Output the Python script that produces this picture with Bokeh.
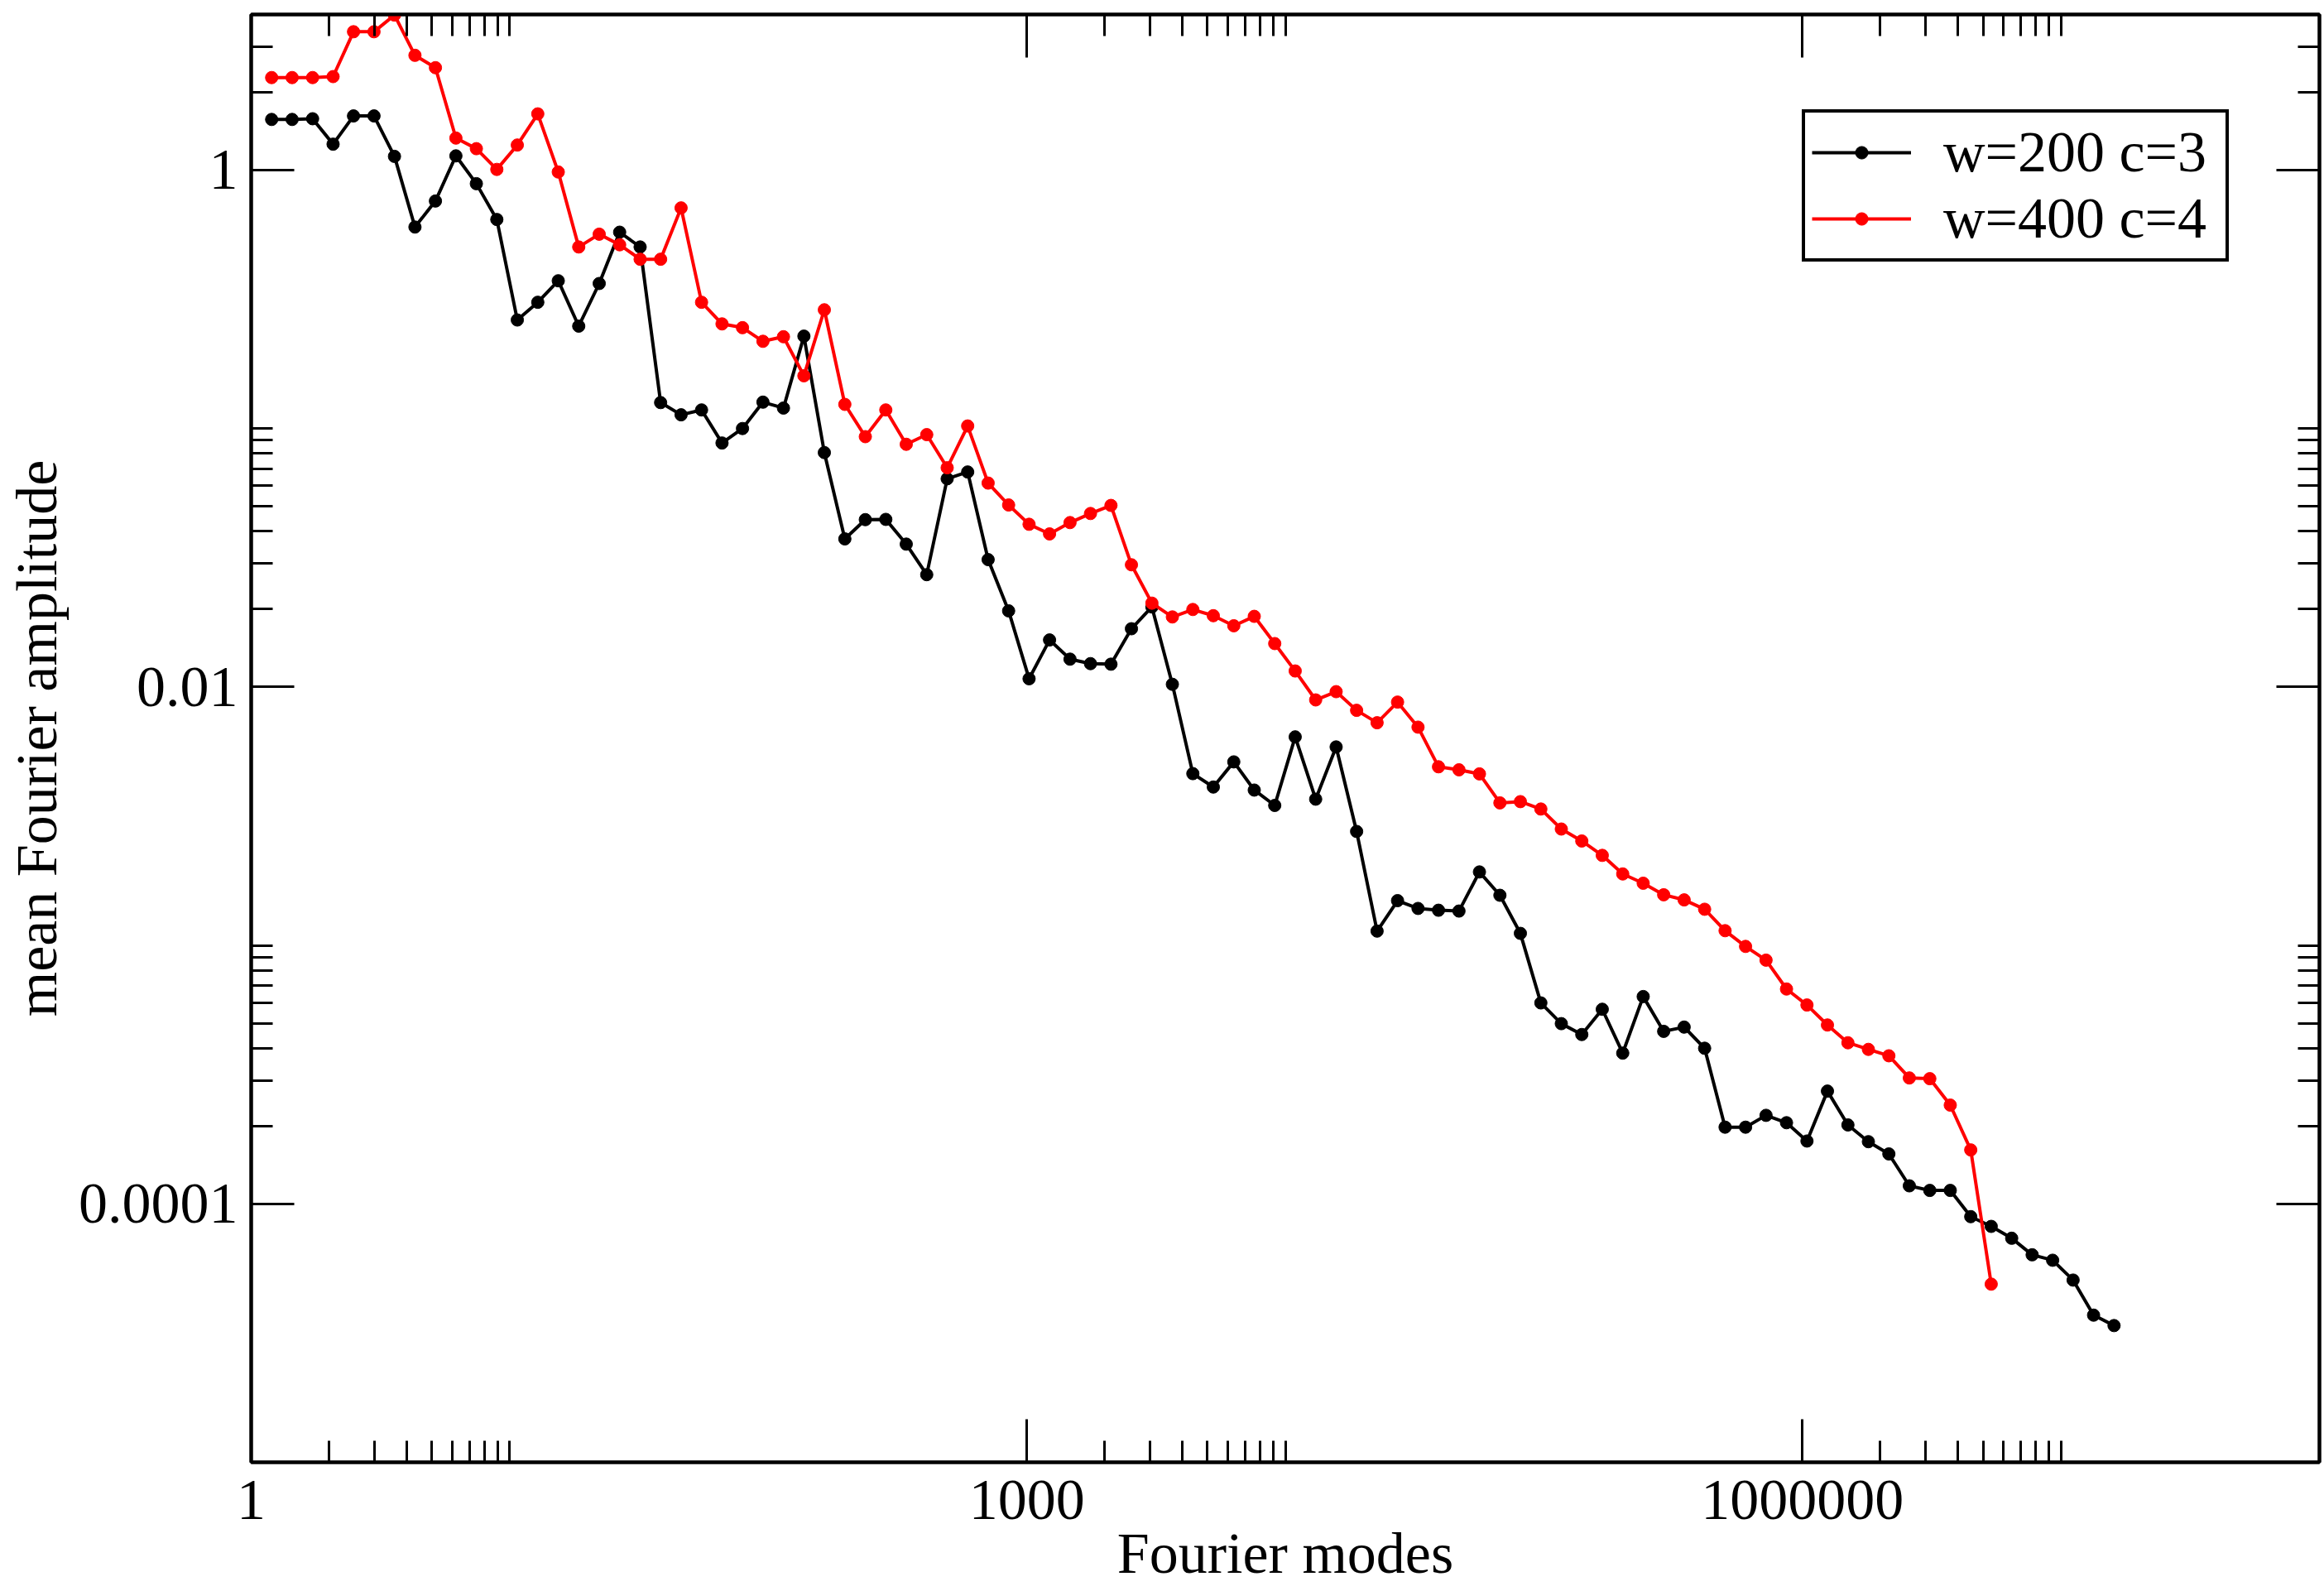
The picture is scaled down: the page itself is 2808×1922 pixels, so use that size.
import math
from bokeh.plotting import figure
from bokeh.models import (LogAxis, FixedTicker, CustomJSTickFormatter,
                          Legend, LegendItem, Range1d, ColumnDataSource)
from bokeh.embed import file_html
from bokeh.resources import INLINE

# ---------------- data ----------------
modes = [1.2, 1.44, 1.728, 2.074, 2.488, 2.986, 3.583, 4.300, 5.160, 6.192,
         7.430, 8.916, 10.70, 12.84, 15.41, 18.49, 22.19, 26.62, 31.95, 38.34,
         46.01, 55.21, 66.25, 79.50, 95.40, 114.5, 137.4, 164.8, 197.8, 237.4,
         284.9, 341.8, 410.2, 492.2, 590.7, 708.8, 850.6, 1020.7, 1224.8, 1469.8,
         1763.7, 2116.5, 2539.8, 3047.7, 3657.3, 4388.7, 5266.5, 6319.8, 7583.7, 9100.4,
         10920, 13105, 15725, 18871, 22645, 27174, 32608, 39130, 46956, 56347,
         67617, 81140, 97368, 116842, 140211, 168253, 201903, 242284, 290741, 348889,
         418667, 502400, 602880, 723456, 868147, 1041777, 1250132, 1500159, 1800190, 2160228,
         2592274, 3110729, 3732875, 4479450, 5375340, 6450408, 7740489, 9288587, 11146305,
         13375566, 16050679]

amp_w200_c3 = [1.57, 1.57, 1.58, 1.26, 1.62, 1.62, 1.13, 0.602, 0.759, 1.135,
               0.886, 0.644, 0.263, 0.308, 0.373, 0.249, 0.364, 0.575, 0.504, 0.126,
               0.113, 0.118, 0.0879, 0.100, 0.1265, 0.120, 0.2277, 0.0807, 0.0374, 0.0444,
               0.0445, 0.0357, 0.0272, 0.0639, 0.0679, 0.0311, 0.0197, 0.01076, 0.0152, 0.01281,
               0.01231, 0.01225, 0.0168, 0.0204, 0.01024, 0.00462, 0.0041, 0.00513, 0.00399, 0.00348,
               0.00641, 0.00368, 0.00586, 0.00276, 0.001136, 0.00149, 0.00139, 0.001368, 0.001358, 0.001924,
               0.001563, 0.001113, 0.000599, 0.000498, 0.000452, 0.000566, 0.000383, 0.000634, 0.000465, 0.000483,
               0.0004, 0.000198, 0.000198, 0.00022, 0.000206, 0.000175, 0.000273, 0.000202, 0.000174, 0.000156,
               0.0001174, 0.0001127, 0.0001127, 0.0000892, 0.0000818, 0.0000736, 0.0000635, 0.0000605,
               0.0000507, 0.0000371, 0.0000338]

amp_w400_c4 = [2.28, 2.28, 2.28, 2.30, 3.43, 3.43, 3.98, 2.78, 2.49, 1.33,
               1.21, 1.006, 1.25, 1.65, 0.983, 0.504, 0.565, 0.514, 0.452, 0.452,
               0.714, 0.308, 0.254, 0.2456, 0.2175, 0.2265, 0.160, 0.288, 0.124, 0.093,
               0.118, 0.0869, 0.0947, 0.0705, 0.1023, 0.0615, 0.0506, 0.0426, 0.0391, 0.04325,
               0.0469, 0.0504, 0.0297, 0.0211, 0.01866, 0.01994, 0.01887, 0.01725, 0.01876, 0.01472,
               0.01153, 0.00891, 0.00959, 0.00812, 0.00727, 0.00874, 0.00699, 0.00491, 0.00478, 0.00461,
               0.00356, 0.0036, 0.00337, 0.00282, 0.002535, 0.00223, 0.00189, 0.00174, 0.00157, 0.0015,
               0.00138, 0.00114, 0.000991, 0.000877, 0.000678, 0.000588, 0.000492, 0.00042, 0.000396, 0.000374,
               0.000307, 0.000305, 0.000241, 0.0001617, 0.0000489]

series_labels = ["w=200 c=3", "w=400 c=4"]
x_title = "Fourier modes"
y_title = "mean Fourier amplitude"

x_major_ticks = [1, 1e3, 1e6]
x_minor_ticks = [2, 3, 4, 5, 6, 7, 8, 9, 10,
                 2e3, 3e3, 4e3, 5e3, 6e3, 7e3, 8e3, 9e3, 1e4,
                 2e6, 3e6, 4e6, 5e6, 6e6, 7e6, 8e6, 9e6, 1e7]
y_major_ticks = [1e-4, 1e-2, 1]
y_minor_ticks = [2e-4, 3e-4, 4e-4, 5e-4, 6e-4, 7e-4, 8e-4, 9e-4, 1e-3,
                 2e-2, 3e-2, 4e-2, 5e-2, 6e-2, 7e-2, 8e-2, 9e-2, 0.1,
                 2, 3, 4]

X_MIN, X_MAX = 1, 1e8
Y_MIN, Y_MAX = 1e-5, 4

# ---------------- layout ----------------
W, H = 2806, 1920
B_LEFT, B_RIGHT, B_TOP, B_BOTTOM = 303, 4, 17, 154
FONT = "Liberation Serif"
FS = "70px"

p = figure(width=W, height=H, x_axis_type="log", y_axis_type="log",
           x_range=Range1d(X_MIN, X_MAX), y_range=Range1d(Y_MIN, Y_MAX),
           output_backend="svg", toolbar_location=None,
           min_border_left=B_LEFT, min_border_right=B_RIGHT,
           min_border_top=B_TOP, min_border_bottom=B_BOTTOM)
p.xgrid.visible = False
p.ygrid.visible = False
p.outline_line_color = "black"
p.outline_line_width = 4
p.background_fill_color = "white"
p.border_fill_color = "white"


def style_axis(ax, major, minor, show_labels, standoff, title=None, title_standoff=0):
    ax.ticker = FixedTicker(ticks=major, minor_ticks=minor)
    ax.axis_line_color = "black"
    ax.axis_line_width = 4
    ax.major_tick_line_color = "black"
    ax.minor_tick_line_color = "black"
    ax.major_tick_line_width = 3
    ax.minor_tick_line_width = 3
    ax.major_tick_in = 52
    ax.major_tick_out = 0
    ax.minor_tick_in = 26
    ax.minor_tick_out = 0
    if show_labels:
        ax.formatter = CustomJSTickFormatter(code="return String(tick);")
        ax.major_label_text_font = FONT
        ax.major_label_text_font_size = FS
        ax.major_label_text_color = "black"
        ax.major_label_standoff = standoff
    else:
        ax.formatter = CustomJSTickFormatter(code="return '';")
        ax.major_label_text_font_size = "1px"
        ax.major_label_text_color = None
        ax.major_label_standoff = 0
    if title is not None:
        ax.axis_label = title
        ax.axis_label_text_font = FONT
        ax.axis_label_text_font_size = FS
        ax.axis_label_text_font_style = "normal"
        ax.axis_label_text_color = "black"
        ax.axis_label_standoff = title_standoff


style_axis(p.xaxis[0], x_major_ticks, x_minor_ticks, True, 22, x_title, 0)
style_axis(p.yaxis[0], y_major_ticks, y_minor_ticks, True, 16, y_title, 9)

top_axis = LogAxis()
style_axis(top_axis, x_major_ticks, x_minor_ticks, False, 0)
p.add_layout(top_axis, "above")
right_axis = LogAxis()
style_axis(right_axis, y_major_ticks, y_minor_ticks, False, 0)
p.add_layout(right_axis, "right")

# ---------------- series ----------------
src_a = ColumnDataSource(dict(x=modes, y=amp_w200_c3))
src_b = ColumnDataSource(dict(x=modes[:len(amp_w400_c4)], y=amp_w400_c4))

la = p.line("x", "y", source=src_a, line_color="black", line_width=4)
sa = p.scatter("x", "y", source=src_a, marker="circle", size=15,
               fill_color="black", line_color="black", line_width=1)
lb = p.line("x", "y", source=src_b, line_color="#ff0000", line_width=4)
sb = p.scatter("x", "y", source=src_b, marker="circle", size=15,
               fill_color="#ff0000", line_color="#ff0000", line_width=1)

legend = Legend(items=[LegendItem(label=series_labels[0], renderers=[la, sa]),
                       LegendItem(label=series_labels[1], renderers=[lb, sb])],
                location=(1874, 1450), margin=0, padding=8, spacing=-10,
                glyph_width=120, glyph_height=38, label_standoff=39, label_width=333,
                label_text_font=FONT, label_text_font_size=FS, label_text_color="black",
                border_line_color="black", border_line_width=4, border_line_alpha=1.0,
                background_fill_color="white", background_fill_alpha=1.0)
p.add_layout(legend)

open("out.html", "w").write(file_html(p, INLINE))
